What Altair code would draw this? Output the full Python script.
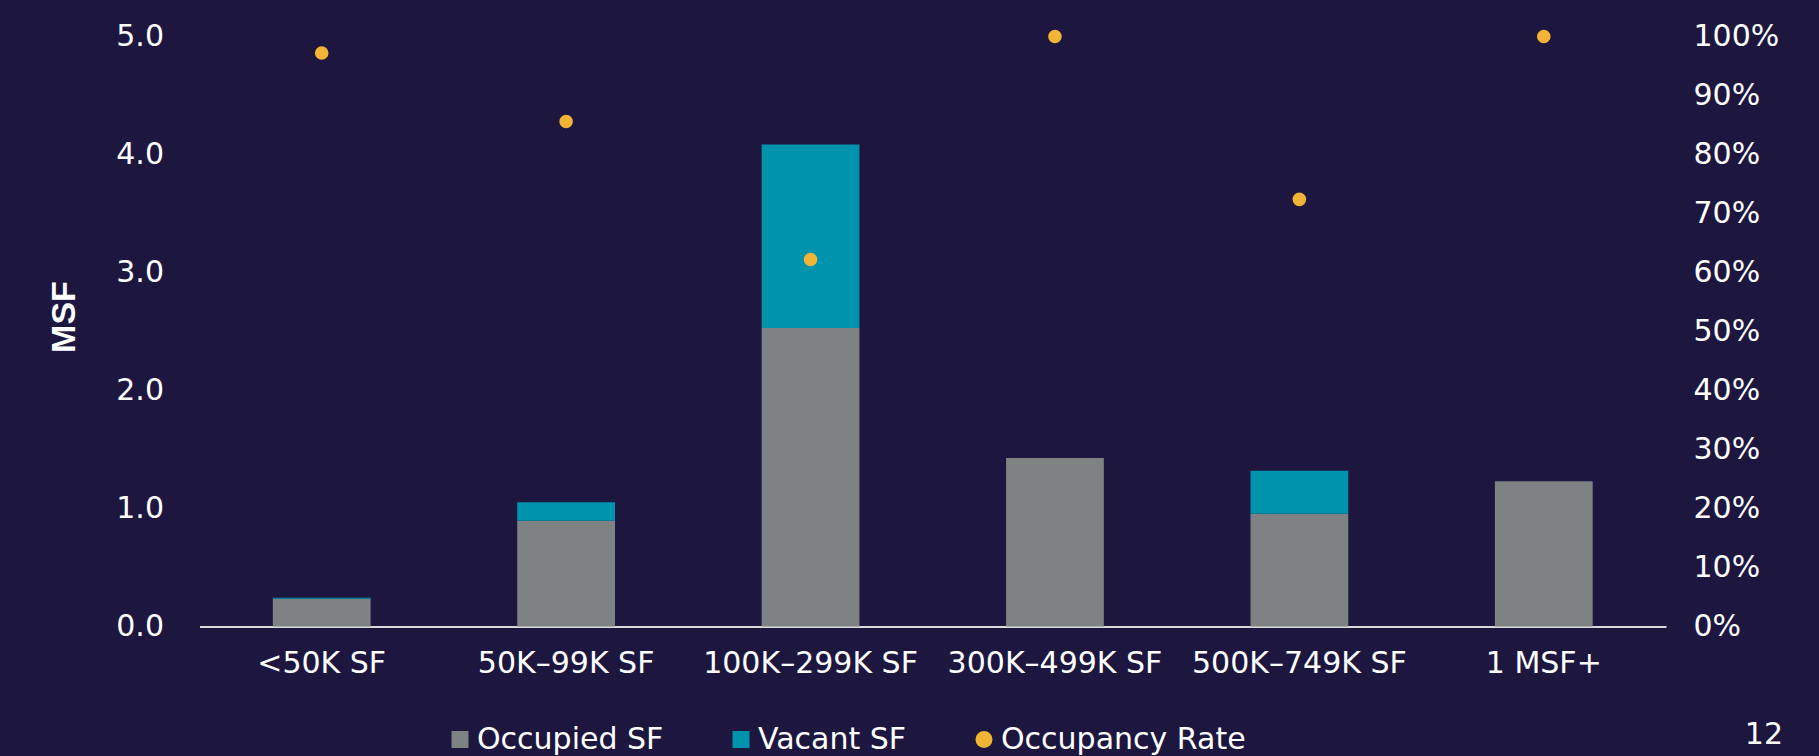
import altair as alt
import pandas as pd

categories = ["<50K SF", "50K–99K SF", "100K–299K SF", "300K–499K SF", "500K–749K SF", "1 MSF+"]
occupied_msf = [0.236, 0.896, 2.53, 1.427, 0.955, 1.23]
vacant_msf = [0.007, 0.157, 1.555, 0.0, 0.364, 0.0]
occupancy_rate = [0.972, 0.856, 0.622, 1.0, 0.724, 1.0]

series_names = ["Occupied SF", "Vacant SF", "Occupancy Rate"]
series_colors = ["#7F8283", "#0093AE", "#F2B434"]
series_shapes = ["square", "square", "circle"]

left_ticks = [0, 1, 2, 3, 4, 5]
right_ticks = [0, 0.1, 0.2, 0.3, 0.4, 0.5, 0.6, 0.7, 0.8, 0.9, 1.0]
page_number = ["12"]

bars = pd.DataFrame({
    "category": categories * 2,
    "series": ["Occupied SF"] * len(categories) + ["Vacant SF"] * len(categories),
    "value": occupied_msf + vacant_msf,
    "order": [0] * len(categories) + [1] * len(categories),
})
rates = pd.DataFrame({
    "category": categories,
    "series": ["Occupancy Rate"] * len(categories),
    "rate": occupancy_rate,
})
page = pd.DataFrame({"page": page_number})

FONT = "DejaVu Sans"
BG = "#1D1740"

color_scale = alt.Scale(domain=series_names, range=series_colors)
shape_scale = alt.Scale(domain=series_names, range=series_shapes)
legend = alt.Legend(
    title=None, orient="none", direction="horizontal",
    legendX=245.5, legendY=688,
    labelFont=FONT, labelFontSize=30, labelColor="#FFFFFF", labelLimit=600,
    symbolSize=289, symbolStrokeWidth=0, symbolOpacity=1, labelOffset=2, columnPadding=62,
)

x_enc = alt.X(
    "category:N", sort=categories, title=None,
    scale=alt.Scale(paddingInner=0.6, paddingOuter=0.3),
    axis=alt.Axis(labelAngle=0, labelFont=FONT, labelFontSize=30, labelColor="#FFFFFF",
                  labelPadding=37, labelBaseline="middle", labelLimit=400, labelOverlap=False,
                  ticks=False, domainColor="#D9D9D9", domainWidth=2, grid=False),
)

bar_layer = alt.Chart(bars).mark_bar().encode(
    x=x_enc,
    y=alt.Y("value:Q", stack="zero", scale=alt.Scale(domain=[0, 5], nice=False),
            axis=alt.Axis(values=left_ticks, format=".1f", title="MSF", grid=False, domain=False,
                          ticks=False, labelFont=FONT, labelFontSize=30, labelColor="#FFFFFF",
                          labelPadding=36, titleFont="Liberation Sans", titleFontWeight="bold",
                          titleFontSize=34, titleColor="#FFFFFF", titleAngle=270,
                          titleAlign="center", titleBaseline="middle", titleX=-135, titleY=280)),
    color=alt.Color("series:N", scale=color_scale, legend=legend),
    order=alt.Order("order:Q"),
)

point_layer = alt.Chart(rates).mark_point(size=185, opacity=1, filled=True).encode(
    x=alt.X("category:N", sort=categories),
    y=alt.Y("rate:Q", scale=alt.Scale(domain=[0, 1], nice=False),
            axis=alt.Axis(orient="right", values=right_ticks, format=".0%", title=None, grid=False,
                          domain=False, ticks=False, labelFont=FONT, labelFontSize=30,
                          labelColor="#FFFFFF", labelPadding=27)),
    color=alt.Color("series:N", scale=color_scale, legend=legend),
    shape=alt.Shape("series:N", scale=shape_scale, legend=legend),
)

page_layer = alt.Chart(page).mark_text(
    font=FONT, fontSize=30, color="#FFFFFF", align="right", baseline="middle"
).encode(
    text="page:N",
    x=alt.value(1583.5),
    y=alt.value(698),
)

chart = alt.layer(bar_layer, point_layer, page_layer).resolve_scale(y="independent").properties(
    width=1466.5, height=590,
    background=BG,
    padding={"left": 199.5, "top": 36.5, "right": 153, "bottom": 129.5},
    autosize=alt.AutoSizeParams(type="none"),
).configure_view(stroke=None)

chart.save("out.html", embed_options={"renderer": "svg", "actions": False})
